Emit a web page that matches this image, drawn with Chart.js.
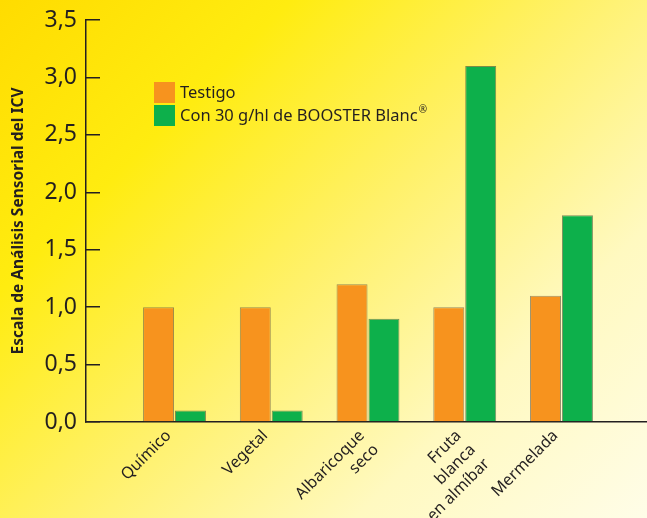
<!DOCTYPE html>
<html>
<head>
<meta charset="utf-8">
<script src="https://cdn.jsdelivr.net/npm/chart.js@4/dist/chart.umd.min.js"></script>
<style>
  html, body { margin: 0; padding: 0; }
  #wrap {
    width: 647px; height: 518px; position: relative;
    background: linear-gradient(135deg, #ffdc00 0%, #ffec10 25%, #fff16a 50%, #fff9c0 75%, #fffde8 100%);
  }
</style>
</head>
<body>
<div id="wrap"><canvas id="chart" width="647" height="518"></canvas></div>
<script>
const categories = ['Químico', 'Vegetal', ['Albaricoque', 'seco'], ['Fruta', 'blanca', 'en almíbar'], 'Mermelada'];
const testigo = [1.0, 1.0, 1.2, 1.0, 1.1];
const booster = [0.1, 0.1, 0.9, 3.1, 1.8];
const seriesLabels = ['Testigo', 'Con 30 g/hl de BOOSTER Blanc®'];
const yTicks = [0, 0.5, 1.0, 1.5, 2.0, 2.5, 3.0, 3.5];

const ink = '#231f20';

// legend drawn inside the plot, like the original
const innerLegend = {
  id: 'innerLegend',
  afterDraw(chart) {
    const ctx = chart.ctx;
    ctx.save();
    chart.data.datasets.forEach((ds, i) => {
      const y = 82 + i * 23;
      ctx.fillStyle = ds.backgroundColor;
      ctx.fillRect(154, y, 21, 21);
      ctx.fillStyle = ink;
      ctx.font = '16.5px "Noto Sans"';
      ctx.textBaseline = 'middle';
      let txt = ds.label;
      const sup = txt.endsWith('®');
      if (sup) txt = txt.slice(0, -1);
      ctx.fillText(txt, 180, y + 11);
      if (sup) {
        const w = ctx.measureText(txt).width;
        ctx.font = '10px "Noto Sans"';
        ctx.fillText('®', 180 + w + 1, y + 5);
      }
    });
    ctx.restore();
  }
};

new Chart(document.getElementById('chart'), {
  type: 'bar',
  data: {
    datasets: [
      {
        label: seriesLabels[0],
        data: testigo.map((v, i) => ({ x: i, y: v })),
        backgroundColor: '#f7931e',
        borderColor: 'rgba(110,95,70,0.7)',
        borderWidth: 1,
        categoryPercentage: 0.66,
        barPercentage: 0.97,
      },
      {
        label: seriesLabels[1],
        data: booster.map((v, i) => ({ x: i, y: v })),
        backgroundColor: '#0db04b',
        borderColor: 'rgba(70,95,60,0.7)',
        borderWidth: 1,
        categoryPercentage: 0.66,
        barPercentage: 0.97,
      },
    ],
  },
  options: {
    responsive: false,
    animation: false,
    layout: { padding: { top: 20, right: 0, left: 0, bottom: 0 } },
    plugins: { legend: { display: false }, tooltip: { enabled: false } },
    scales: {
      x: {
        type: 'linear',
        offset: false,
        min: -0.915,
        max: 4.884,
        afterBuildTicks: (s) => { s.ticks = categories.map((_, i) => ({ value: i })); },
        afterFit: (s) => { s.height = 96; s.paddingLeft = 0; s.paddingRight = 0; },
        grid: { display: false, offset: false },
        border: { display: true, color: ink, width: 1.5 },
        ticks: {
          color: ink,
          font: { family: 'Noto Sans', size: 16, lineHeight: 1.25 },
          minRotation: 45,
          maxRotation: 45,
          padding: -4,
          labelOffset: -6,
          autoSkip: false,
          callback: (v) => categories[v],
        },
      },
      y: {
        min: 0,
        max: 3.5,
        afterBuildTicks: (s) => { s.ticks = yTicks.map(v => ({ value: v })); },
        afterFit: (s) => { s.width = 86; s.paddingTop = 0; s.paddingBottom = 0; },
        grid: { drawOnChartArea: false, color: ink, lineWidth: 1.5, tickLength: -14 },
        border: { display: true, color: ink, width: 1.5 },
        ticks: {
          color: ink,
          font: { family: 'Noto Sans', size: 23 },
          padding: 23,
          callback: (v) => v.toFixed(1).replace('.', ','),
        },
        title: {
          display: true,
          text: 'Escala de Análisis Sensorial del ICV',
          color: ink,
          font: { family: 'Noto Sans', size: 15.5, weight: 'bold' },
          padding: { top: 9, bottom: 0 },
        },
      },
    },
  },
  plugins: [innerLegend],
});
</script>
</body>
</html>
